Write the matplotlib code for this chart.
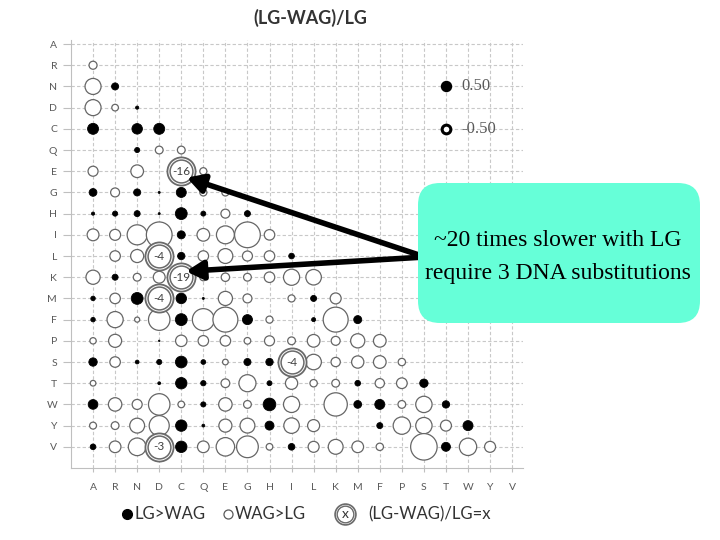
import numpy as np
import matplotlib.pyplot as plt
from matplotlib.lines import Line2D
from matplotlib.patches import FancyBboxPatch

nan = np.nan

amino = ["A", "R", "N", "D", "C", "Q", "E", "G", "H", "I",
         "L", "K", "M", "F", "P", "S", "T", "W", "Y", "V"]

# (LG-WAG)/LG, lower triangle, row i has columns 0..i-1 (nan = no bubble)
ratio_rows = [
    [],
    [-0.32],
    [-1.28, 0.25],
    [-1.28, -0.22, 0.05],
    [0.6, nan, 0.55, 0.6],
    [nan, nan, 0.13, -0.3, -0.3],
    [-0.5, nan, -0.8, nan, nan, -0.25],
    [0.3, -0.4, 0.25, 0.02, 0.5, -0.25, -0.25],
    [0.05, 0.13, 0.18, 0.02, 0.7, 0.12, -0.4, 0.18],
    [-0.7, -0.6, -2.0, -3.3, 0.32, -0.8, -1.6, -3.3, -0.55],
    [nan, -0.55, -0.85, nan, 0.27, -0.55, -1.1, -0.5, -0.55, 0.16],
    [-1.0, 0.18, -0.3, -0.7, nan, -0.25, -0.35, -0.3, -0.55, -1.3, -1.2],
    [0.1, -0.55, 0.7, nan, 0.55, 0.02, -1.0, -0.4, nan, -0.25, 0.18, -0.6],
    [0.1, -1.3, -0.13, -2.3, 0.7, -2.4, -3.1, 0.5, -0.25, nan, 0.08, -3.1, 0.32],
    [-0.2, -0.85, nan, 0.01, -0.65, -0.55, -0.55, -0.22, -0.5, -0.3, -0.8, -0.4,
     -1.0, -0.8],
    [0.35, -0.55, 0.07, 0.13, 0.68, 0.11, -0.16, 0.25, 0.27, nan, -1.2, -0.43,
     -0.75, -0.8, -0.27],
    [-0.16, nan, nan, 0.04, 0.65, 0.14, -0.38, -1.45, 0.12, -0.75, -0.27, -0.3,
     0.16, -0.43, -0.57, 0.35],
    [0.47, -0.9, -0.5, -2.3, -0.22, 0.13, -0.9, -0.3, 0.8, -1.3, nan, -2.7,
     0.3, 0.5, -0.3, -1.33, 0.27],
    [-0.24, -0.3, -1.1, -2.0, 0.65, 0.04, -0.85, -1.1, 0.4, -1.2, -0.72, nan,
     nan, 0.18, -1.5, -1.33, -0.6, 0.5],
    [0.16, -0.68, -1.55, nan, 0.65, -0.68, -1.7, -2.35, -0.22, 0.22, -0.6, -1.1,
     -0.68, -0.27, nan, -3.5, 0.4, -1.5, -0.6],
]

# highlighted cells with their ratio written inside
callout_labels = ["-16", "-19", "-4", "-4", "-4", "-3"]
callout_rows = ["E", "K", "L", "M", "S", "V"]
callout_cols = ["C", "C", "D", "D", "I", "D"]

size_legend_values = [0.50, -0.50]
size_legend_labels = ["0.50", "-0.50"]

SIZE = 104  # points^2 per unit of |ratio|
GREY = "#595959"

plt.rcParams["font.family"] = ["Lato", "DejaVu Sans"]

fig = plt.figure(figsize=(7.2, 5.4), dpi=100)
ax = fig.add_axes([0.0986, 0.1333, 0.628, 0.793])

xs, ys, vs = [], [], []
for i, row in enumerate(ratio_rows):
    for j, v in enumerate(row):
        if not np.isnan(v):
            xs.append(j)
            ys.append(i)
            vs.append(v)
xs, ys, vs = np.array(xs), np.array(ys), np.array(vs)
pos = vs > 0

ax.scatter(xs[pos], ys[pos], s=SIZE * vs[pos], c="black",
           edgecolors="black", linewidths=0.6, zorder=3)
ax.scatter(xs[~pos], ys[~pos], s=SIZE * -vs[~pos], facecolors="white",
           edgecolors="#666666", linewidths=0.9, zorder=3)

# double-ring callouts
cx = [amino.index(c) for c in callout_cols]
cy = [amino.index(r) for r in callout_rows]
ax.scatter(cx, cy, s=410, facecolors="white", edgecolors="#6a6a6a",
           linewidths=1.3, zorder=4)
ax.scatter(cx, cy, s=270, facecolors="white", edgecolors="#6a6a6a",
           linewidths=1.1, zorder=4)
for x, y, lab in zip(cx, cy, callout_labels):
    ax.text(x, y, lab, ha="center", va="center", fontsize=8.5,
            color="#404040", zorder=5)

# size legend inside the plot
lx = amino.index("T")
for v, lab, r in zip(size_legend_values, size_legend_labels, ["N", "C"]):
    y = amino.index(r)
    if v > 0:
        ax.scatter([lx], [y], s=SIZE * v, c="black", zorder=3)
    else:
        ax.scatter([lx], [y], s=SIZE * -v * 0.75, facecolors="white",
                   edgecolors="black", linewidths=2.2, zorder=3)
    ax.text(lx + 0.7, y, lab, ha="left", va="center", fontsize=12,
            family="Liberation Serif", color=GREY)

ax.set_xlim(-1, 19.5)
ax.set_ylim(20, -0.2)
ax.set_xticks(range(len(amino)))
ax.set_xticklabels(amino)
ax.set_yticks(range(len(amino)))
ax.set_yticklabels(amino)
ax.tick_params(axis="x", length=3, pad=8, colors="#bfbfbf",
               labelcolor=GREY, labelsize=7.5)
ax.tick_params(axis="y", length=6, pad=4, colors="#bfbfbf",
               labelcolor=GREY, labelsize=7.5)
ax.grid(True, linestyle=(0, (3, 2)), color="#c8c8c8", linewidth=0.8)
ax.set_axisbelow(True)
for side in ["top", "right"]:
    ax.spines[side].set_visible(False)
for side in ["left", "bottom"]:
    ax.spines[side].set_color("#bfbfbf")

# arrows from the note box to the two strongest cells
arrow_kw = dict(arrowstyle="-|>,head_length=0.5,head_width=0.28",
                lw=4, color="black", mutation_scale=20, shrinkA=0, shrinkB=0)
ax.annotate("", xy=(amino.index("C") + 0.25, amino.index("E") + 0.3),
            xytext=(425 / 720, 1 - 257 / 540), textcoords="figure fraction",
            arrowprops=arrow_kw, zorder=6)
ax.annotate("", xy=(amino.index("C") + 0.22, amino.index("K") - 0.28),
            xytext=(425 / 720, 1 - 257 / 540), textcoords="figure fraction",
            arrowprops=arrow_kw, zorder=6)

box = FancyBboxPatch((4.18, 2.17), 2.82, 1.40,
                     boxstyle="round,pad=0,rounding_size=0.22",
                     transform=fig.dpi_scale_trans, facecolor="#66ffd8",
                     edgecolor="none", zorder=10)
fig.add_artist(box)
fig.text(558 / 720, 1 - 240 / 540, "~20 times slower with LG", ha="center",
         va="center", fontsize=17, family="Liberation Serif", zorder=11)
fig.text(558 / 720, 1 - 273 / 540, "require 3 DNA substitutions",
         ha="center", va="center", fontsize=17, family="Liberation Serif",
         zorder=11)

fig.text(310 / 720, 1 - 18 / 540, "(LG-WAG)/LG", ha="center", va="center",
         fontsize=13, weight="bold", color="#333333")

# bottom legend
ly = 1 - 514 / 540
fig.add_artist(Line2D([127 / 720], [ly], marker="o", markersize=7,
                      color="black", transform=fig.transFigure))
fig.text(134 / 720, ly, "LG>WAG", va="center", fontsize=12, color="#333333")
fig.add_artist(Line2D([228 / 720], [ly], marker="o", markersize=6.5,
                      markerfacecolor="white", markeredgecolor=GREY,
                      markeredgewidth=0.9, transform=fig.transFigure))
fig.text(235 / 720, ly, "WAG>LG", va="center", fontsize=12, color="#333333")
fig.add_artist(Line2D([345 / 720], [ly], marker="o", markersize=15,
                      markerfacecolor="white", markeredgecolor="#6a6a6a",
                      markeredgewidth=1.2, transform=fig.transFigure))
fig.add_artist(Line2D([345 / 720], [ly], marker="o", markersize=12,
                      markerfacecolor="white", markeredgecolor="#6a6a6a",
                      markeredgewidth=1.0, transform=fig.transFigure))
fig.text(345 / 720, ly, "x", ha="center", va="center", fontsize=10,
         color="#333333")
fig.text(368 / 720, ly, "(LG-WAG)/LG=x", va="center", fontsize=12,
         color="#333333")

fig.savefig("out.png", dpi=100)
